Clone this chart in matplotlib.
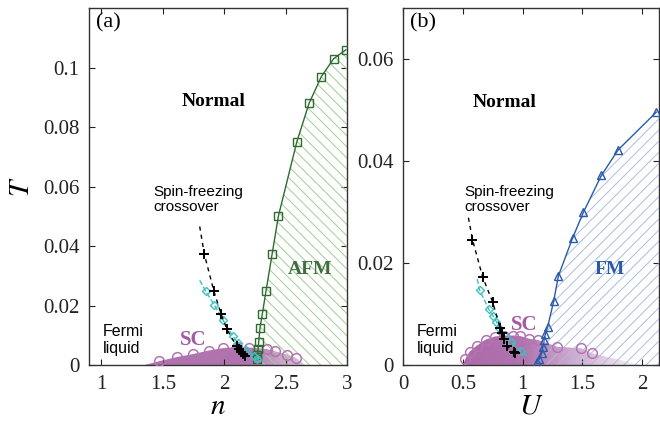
import numpy as np
import matplotlib
matplotlib.use("Agg")
import matplotlib.pyplot as plt
from matplotlib.patches import Polygon

# ---------------- panel (a): filling n ----------------
afm_n = [2.265, 2.27, 2.275, 2.28, 2.29, 2.31, 2.34, 2.39, 2.44, 2.59, 2.69, 2.79, 2.89, 2.99]
afm_T = [0.0019, 0.0033, 0.0055, 0.0078, 0.0123, 0.0173, 0.025, 0.0375, 0.050,
         0.075, 0.088, 0.097, 0.103, 0.106]

sca_n = [1.47, 1.615, 1.745, 1.875, 1.99, 2.10, 2.205, 2.345, 2.41, 2.51, 2.58]
sca_T = [0.0013, 0.0027, 0.0037, 0.0049, 0.0057, 0.0061, 0.0059, 0.0054, 0.0047, 0.0035, 0.0025]
sca_edges = [1.35, 2.66]

sfa_n = [1.838, 1.916, 1.973, 2.02, 2.10, 2.12, 2.14, 2.155, 2.17]
sfa_T = [0.0372, 0.0248, 0.0173, 0.0122, 0.0063, 0.0055, 0.0045, 0.0038, 0.0032]
sfa_guide_n = [1.80, 1.838, 1.916, 1.973, 2.02, 2.10, 2.17]
sfa_guide_T = [0.0466, 0.0372, 0.0248, 0.0173, 0.0122, 0.0063, 0.0032]

cya_n = [1.85, 1.92, 1.99, 2.07, 2.115, 2.18, 2.24, 2.27]
cya_T = [0.0248, 0.0201, 0.0151, 0.0097, 0.0073, 0.005, 0.0032, 0.0019]
cya_guide_n = [1.80, 1.85, 1.92, 1.99, 2.07, 2.115, 2.18, 2.27, 2.32]
cya_guide_T = [0.0285, 0.0248, 0.0201, 0.0151, 0.0097, 0.0073, 0.005, 0.0019, 0.0011]

# ---------------- panel (b): interaction U ----------------
fm_U = [1.12, 1.14, 1.16, 1.17, 1.18, 1.19, 1.21, 1.26, 1.30, 1.42, 1.51, 1.66, 1.80, 2.12]
fm_T = [0.0006, 0.0012, 0.0023, 0.0036, 0.0049, 0.006, 0.0075, 0.0125, 0.0175,
        0.025, 0.030, 0.0372, 0.0422, 0.0496]

scb_U = [0.52, 0.555, 0.615, 0.69, 0.765, 0.84, 0.92, 0.98, 1.05, 1.13, 1.29, 1.49, 1.58]
scb_T = [0.0012, 0.0026, 0.0038, 0.005, 0.0056, 0.0058, 0.0058, 0.0057, 0.0052, 0.0049,
         0.0036, 0.0033, 0.0023]
scb_edges = [0.50, 2.0]

sfb_U = [0.58, 0.666, 0.75, 0.811, 0.825, 0.84, 0.87, 0.925, 0.94]
sfb_T = [0.0246, 0.0172, 0.0123, 0.0073, 0.0062, 0.0051, 0.0037, 0.0026, 0.0023]
sfb_guide_U = [0.546, 0.58, 0.666, 0.75, 0.811, 0.84, 0.87, 0.94]
sfb_guide_T = [0.0289, 0.0246, 0.0172, 0.0123, 0.0073, 0.0051, 0.0037, 0.0023]

cyb_U = [0.64, 0.715, 0.75, 0.78, 0.805, 0.85, 0.905, 0.985]
cyb_T = [0.0147, 0.011, 0.0097, 0.0085, 0.0072, 0.0057, 0.0046, 0.0027]
cyb_guide_U = [0.62, 0.64, 0.715, 0.75, 0.78, 0.805, 0.85, 0.905, 0.985, 1.05]
cyb_guide_T = [0.0169, 0.0147, 0.011, 0.0097, 0.0085, 0.0072, 0.0057, 0.0046, 0.0027, 0.0015]

xticks_a = [1, 1.5, 2, 2.5, 3]
xticklabels_a = ["1", "1.5", "2", "2.5", "3"]
yticks_a = [0, 0.02, 0.04, 0.06, 0.08, 0.1]
yticklabels_a = ["0", "0.02", "0.04", "0.06", "0.08", "0.1"]
xticks_b = [0, 0.5, 1, 1.5, 2]
xticklabels_b = ["0", "0.5", "1", "1.5", "2"]
yticks_b = [0, 0.02, 0.04, 0.06]
yticklabels_b = ["0", "0.02", "0.04", "0.06"]

SERIF = "Liberation Serif"
SANS = "Liberation Sans"
PURPLE = np.array([162, 90, 160]) / 255
CIRC = "#b474b4"
GREEN_D = "#2f6b32"
GREEN_H = "#9fd08e"
BLUE_D = "#2b5aa8"
BLUE_H = "#a9bde0"
CYAN = "#3cc2c2"

plt.rcParams["hatch.linewidth"] = 0.7
plt.rcParams["font.family"] = SERIF

fig = plt.figure(figsize=(6.6, 4.28), dpi=100)
ax_a = fig.add_axes([0.135, 0.147, 0.391, 0.834])
ax_b = fig.add_axes([0.611, 0.147, 0.387, 0.834])


def dome(ax, xs, ys, edges, fade_x, fade_a):
    """Superconducting dome, filled with a purple that fades towards larger x."""
    px = np.r_[edges[0], xs, edges[1]]
    py = np.r_[0.0, ys, 0.0]
    poly = Polygon(np.c_[px, py], closed=True, facecolor="none", edgecolor="none")
    ax.add_patch(poly)
    gx = np.linspace(edges[0], edges[1], 256)
    rgba = np.zeros((2, 256, 4))
    rgba[..., :3] = PURPLE
    rgba[..., 3] = np.interp(gx, fade_x, fade_a)[None, :]
    im = ax.imshow(rgba, extent=[edges[0], edges[1], 0, max(py) * 1.05],
                   aspect="auto", origin="lower", zorder=1, interpolation="bilinear")
    im.set_clip_path(poly)


def ordered_region(ax, xs, ys, xmax, color, hatch):
    xs = np.asarray(xs); ys = np.asarray(ys)
    px = np.r_[xs[0], xs, xmax, xmax]
    py = np.r_[0.0, ys, ys[-1], 0.0]
    ax.fill(px, py, facecolor="none", edgecolor=color, hatch=hatch, linewidth=0, zorder=2)


def style(ax, xlim, ylim, xt, xtl, yt, ytl):
    ax.set_xlim(*xlim)
    ax.set_ylim(*ylim)
    ax.set_xticks(xt)
    ax.set_xticklabels(xtl)
    ax.set_yticks(yt)
    ax.set_yticklabels(ytl)
    ax.tick_params(direction="in", top=True, right=True, length=4, width=0.8,
                   labelsize=15, pad=7, colors="#222222")
    for lab in ax.get_xticklabels() + ax.get_yticklabels():
        lab.set_fontfamily(SERIF)
    for s in ax.spines.values():
        s.set_linewidth(1.0)
        s.set_color("#333333")


# ---- panel (a) ----
ax = ax_a
dome(ax, sca_n, sca_T, sca_edges, [1.35, 2.2, 2.66], [0.85, 0.85, 0.35])
ordered_region(ax, afm_n, afm_T, 3.0, GREEN_H, "\\\\\\")
ax.plot(afm_n, afm_T, "-", color=GREEN_D, lw=1.0, zorder=3)
ax.plot(afm_n, afm_T, "s", mfc="none", mec=GREEN_D, ms=6, mew=1.0, zorder=4)
ax.plot(sca_n, sca_T, "o", mfc="none", mec=CIRC, ms=7, mew=1.1, zorder=3)
ax.plot(cya_guide_n, cya_guide_T, "--", color=CYAN, lw=1.0, zorder=4)
ax.plot(cya_n, cya_T, "D", mfc="none", mec=CYAN, ms=4.5, mew=1.0, zorder=4)
ax.plot(sfa_guide_n, sfa_guide_T, "--", color="black", lw=1.0, dashes=(3, 3), zorder=5)
ax.plot(sfa_n, sfa_T, "+", color="black", ms=7, mew=1.4, zorder=6)
style(ax, (0.9, 3.0), (0, 0.12), xticks_a, xticklabels_a, yticks_a, yticklabels_a)
ax.set_xlabel("$n$", fontsize=21, labelpad=0, math_fontfamily="stix")
ax.set_ylabel("$T$", fontsize=21, labelpad=6, math_fontfamily="stix")
ax.text(0.025, 0.985, "(a)", transform=ax.transAxes, ha="left", va="top", fontsize=16)
ax.text(1.916, 0.0885, "Normal", ha="center", va="center", fontsize=14, fontweight="bold")
ax.text(1.42, 0.0556, "Spin-freezing\ncrossover", ha="left", va="center",
        fontsize=11, family=SANS, linespacing=1.1)
ax.text(1.015, 0.0084, "Fermi\nliquid", ha="left", va="center",
        fontsize=11.5, family=SANS, linespacing=1.15)
ax.text(1.748, 0.0084, "SC", ha="center", va="center", fontsize=15,
        fontweight="bold", color="#a45aa2", zorder=7)
ax.text(2.697, 0.0321, "AFM", ha="center", va="center", fontsize=14,
        fontweight="bold", color="#3d6e3d", zorder=7)

# ---- panel (b) ----
ax = ax_b
dome(ax, scb_U, scb_T, scb_edges, [0.5, 1.0, 1.5, 2.0], [0.9, 0.85, 0.45, 0.05])
ordered_region(ax, fm_U, fm_T, 2.14, BLUE_H, "///")
ax.plot(fm_U, fm_T, "-", color=BLUE_D, lw=1.0, zorder=3)
ax.plot(fm_U, fm_T, "^", mfc="none", mec=BLUE_D, ms=6, mew=1.0, zorder=4)
ax.plot(scb_U, scb_T, "o", mfc="none", mec=CIRC, ms=7, mew=1.1, zorder=3)
ax.plot(cyb_guide_U, cyb_guide_T, "--", color=CYAN, lw=1.0, zorder=4)
ax.plot(cyb_U, cyb_T, "D", mfc="none", mec=CYAN, ms=4.5, mew=1.0, zorder=4)
ax.plot(sfb_guide_U, sfb_guide_T, "--", color="black", lw=1.0, dashes=(3, 3), zorder=5)
ax.plot(sfb_U, sfb_T, "+", color="black", ms=7, mew=1.4, zorder=6)
style(ax, (0, 2.14), (0, 0.07), xticks_b, xticklabels_b, yticks_b, yticklabels_b)
ax.set_xlabel("$U$", fontsize=21, labelpad=0, math_fontfamily="stix")
ax.text(0.025, 0.985, "(b)", transform=ax.transAxes, ha="left", va="top", fontsize=16)
ax.text(0.845, 0.0515, "Normal", ha="center", va="center", fontsize=14, fontweight="bold")
ax.text(0.51, 0.0324, "Spin-freezing\ncrossover", ha="left", va="center",
        fontsize=11, family=SANS, linespacing=1.1)
ax.text(0.11, 0.0049, "Fermi\nliquid", ha="left", va="center",
        fontsize=11.5, family=SANS, linespacing=1.15)
ax.text(1.01, 0.0078, "SC", ha="center", va="center", fontsize=15,
        fontweight="bold", color="#a45aa2", zorder=7)
ax.text(1.73, 0.0187, "FM", ha="center", va="center", fontsize=14,
        fontweight="bold", color=BLUE_D, zorder=7)

fig.savefig("out.png", dpi=100)
